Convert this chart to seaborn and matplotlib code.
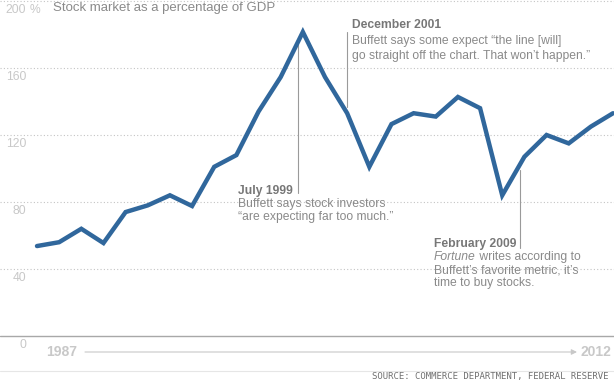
import matplotlib
matplotlib.use("Agg")
import matplotlib.pyplot as plt
from matplotlib.lines import Line2D
import seaborn as sns
import pandas as pd

# ---------------- data ----------------
years = [1987, 1988, 1989, 1990, 1991, 1992, 1993, 1994, 1995, 1996,
         1997, 1998, 1999, 2000, 2001, 2002, 2003, 2004, 2005, 2006,
         2007, 2008, 2009, 2010, 2011, 2012, 2013]
pct_gdp = [53.7, 56.0, 64.0, 55.5, 74.0, 78.0, 84.0, 77.6, 101.0, 108.0,
           134.0, 154.6, 181.5, 154.6, 133.0, 101.0, 126.5, 133.0, 131.0, 142.7,
           136.0, 84.0, 107.0, 120.0, 115.0, 125.0, 133.0]
y_ticks = [0, 40, 80, 120, 160, 200]
y_tick_labels = ["0", "40", "80", "120", "160", "200"]
title = "Stock market as a percentage of GDP"
x_start_label = "1987"
x_end_label = "2012"
source = "SOURCE: COMMERCE DEPARTMENT, FEDERAL RESERVE"

# annotations: leader x, leader y range, text x, heading, body lines, row values
ann_july = dict(x=1998.76, y0=85.4, y1=174.9, tx=1996.07,
                rows=[86.6, 78.8, 71.0],
                head="July 1999",
                body=["Buffett says stock investors",
                      "\u201care expecting far too much.\u201d"])
ann_dec = dict(x=2001.0, y0=136.7, y1=181.5, tx=2001.22,
               rows=[185.6, 175.9, 167.2],
               head="December 2001",
               body=["Buffett says some expect \u201cthe line [will]",
                     "go straight off the chart. That won\u2019t happen.\u201d"])
ann_feb = dict(x=2008.8, y0=52.5, y1=99.0, tx=2004.92,
               rows=[54.9, 47.2, 39.4, 31.6],
               head="February 2009")

# ---------------- style ----------------
sns.set_theme(style="white")
plt.rcParams['font.family'] = ['Liberation Sans', 'DejaVu Sans']

LINE = "#30679c"
GRID = "#c4c4c4"
LABEL = "#c8c8c8"
HEAD = "#777777"
BODY = "#8a8a8a"
FS = 8.7

W, H = 614, 382
fig = plt.figure(figsize=(W / 100, H / 100), dpi=100)
fig.patch.set_facecolor("white")
ax = fig.add_axes([0, 46 / H, 1, 335 / H])

PX = 22.154  # pixels per year
ax.set_xlim(years[0] - 37 / PX, years[0] + (W - 37) / PX)
ax.set_ylim(0, 200)
ax.set_axis_off()

# gridlines
for v in y_ticks[1:]:
    ax.axhline(v, color=GRID, lw=0.8, ls=(0, (1, 2)), zorder=1, clip_on=False)
ax.axhline(0, color="#a8a8a8", lw=1.0, zorder=1, clip_on=False)

df = pd.DataFrame({"year": years, "pct": pct_gdp})
sns.lineplot(data=df, x="year", y="pct", ax=ax, color=LINE, linewidth=3.2,
             solid_joinstyle="miter", zorder=3, clip_on=False)

# y tick labels
for v, lab in zip(y_ticks, y_tick_labels):
    ax.annotate(lab, xy=(26 / W, v), xycoords=("axes fraction", "data"),
                xytext=(0, -2.5), textcoords="offset points",
                ha="right", va="top", fontsize=FS, color=LABEL)
ax.annotate("%", xy=(30 / W, 200), xycoords=("axes fraction", "data"),
            xytext=(0, -2.5), textcoords="offset points",
            ha="left", va="top", fontsize=FS, color=LABEL)

fig.text(53 / W, (H - 8) / H, title, ha="left", va="center",
         fontsize=9.5, color="#8a8a8a")

# annotations
for a in (ann_july, ann_dec, ann_feb):
    ax.plot([a["x"], a["x"]], [a["y0"], a["y1"]], color="#9a9a9a", lw=0.8,
            zorder=2)
    ax.text(a["tx"], a["rows"][0], a["head"], ha="left", va="center",
            fontsize=FS, fontweight="bold", color=HEAD, zorder=4)
    for line, r in zip(a.get("body", []), a["rows"][1:]):
        ax.text(a["tx"], r, line, ha="left", va="center", fontsize=FS,
                color=BODY, zorder=4)

t_it = ax.text(ann_feb["tx"], ann_feb["rows"][1], "Fortune", ha="left",
               va="center", fontsize=FS, style="italic", color=BODY, zorder=4)
ax.annotate(" writes according to", xy=(1, 0), xycoords=t_it, ha="left",
            va="bottom", fontsize=FS, color=BODY, zorder=4)
ax.text(ann_feb["tx"], ann_feb["rows"][2], "Buffett\u2019s favorite metric, it\u2019s",
        ha="left", va="center", fontsize=FS, color=BODY, zorder=4)
ax.text(ann_feb["tx"], ann_feb["rows"][3], "time to buy stocks.",
        ha="left", va="center", fontsize=FS, color=BODY, zorder=4)

# bottom time axis
fig.text(46 / W, (H - 352) / H, x_start_label, ha="left", va="center",
         fontsize=10, fontweight="bold", color=LABEL)
fig.text(611 / W, (H - 352) / H, x_end_label, ha="right", va="center",
         fontsize=10, fontweight="bold", color=LABEL)
ax.annotate("", xy=(577, H - 352), xytext=(85, H - 352),
            xycoords="figure pixels", textcoords="figure pixels",
            arrowprops=dict(arrowstyle="-|>", color="#c8c8c8", lw=0.8,
                            mutation_scale=8, shrinkA=0, shrinkB=0))

fig.add_artist(Line2D([0, 1], [11 / H, 11 / H], transform=fig.transFigure,
                      color="#e6e6e6", lw=0.8))
fig.text(608 / W, (H - 377) / H, source, ha="right", va="center",
         family="DejaVu Sans Mono", fontsize=6.5, color="#707070")

fig.savefig("out.png", dpi=100, facecolor="white")
